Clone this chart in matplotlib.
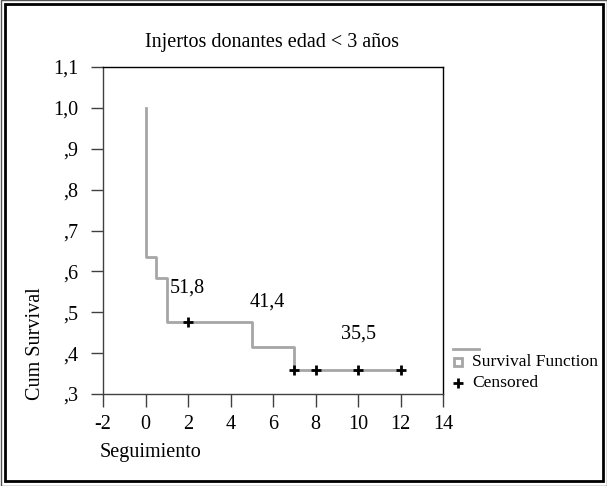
import matplotlib
matplotlib.use("Agg")
import matplotlib.pyplot as plt
from matplotlib.patches import Rectangle
from matplotlib.lines import Line2D

plt.rcParams['font.family'] = ['Liberation Serif', 'DejaVu Serif']

# Data
step_time = [0, 0, 0.5, 1, 5, 7, 12]
step_surv = [1.0, 0.636, 0.583, 0.477, 0.415, 0.358, 0.358]
cens_time = [2, 7, 8, 10, 12]
cens_surv = [0.477, 0.358, 0.358, 0.358, 0.358]
ann_text = ["51,8", "41,4", "35,5"]
ann_x = [1.97, 5.75, 10.0]
ann_y = [0.559, 0.526, 0.446]
xticks = [-2, 0, 2, 4, 6, 8, 10, 12, 14]
yticks = [0.3, 0.4, 0.5, 0.6, 0.7, 0.8, 0.9, 1.0, 1.1]
ytick_labels = [",3", ",4", ",5", ",6", ",7", ",8", ",9", "1,0", "1,1"]

W, H = 607, 486
fig = plt.figure(figsize=(W / 100, H / 100), dpi=100)
ax = fig.add_axes([103 / W, 1 - 394 / H, (443 - 103) / W, (394 - 67) / H])

gray = '#a6a6a6'
ax.plot(step_time, step_surv, drawstyle='steps-post', color=gray, lw=2.0, zorder=2)
ax.plot(cens_time, cens_surv, linestyle='none', marker='+', color='black',
        markersize=7, markeredgewidth=2.0, zorder=3)
for t, x, y in zip(ann_text, ann_x, ann_y):
    ax.text(x, y, t, ha='center', va='center', fontsize=14.5)

ax.set_xlim(-2, 14)
ax.set_ylim(0.3, 1.1)
ax.set_xticks(xticks)
ax.set_xticklabels([str(v) for v in xticks])
ax.set_yticks(yticks)
ax.set_yticklabels(ytick_labels)
ax.tick_params(axis='both', direction='out', length=9, width=1.0, color='#404040',
               labelsize=14.5)
ax.tick_params(axis='x', pad=6)
ax.tick_params(axis='y', pad=9)
for side in ['left', 'bottom']:
    ax.spines[side].set_color('#404040')
    ax.spines[side].set_linewidth(1.0)
for side in ['top', 'right']:
    ax.spines[side].set_color('black')
    ax.spines[side].set_linewidth(1.0)

fig.text(272 / W, 1 - 43 / H, "Injertos donantes edad < 3 años", ha='center', va='center', fontsize=14.5)
fig.text(35 / W, 1 - 344 / H, "Cum Survival", rotation=90, ha='center', va='center', fontsize=14.5)
fig.text(100 / W, 1 - 452 / H, "Seguimiento", ha='left', va='center', fontsize=14.5)

# Legend (drawn manually)
fig.add_artist(Line2D([453 / W, 479 / W], [1 - 349 / H, 1 - 349 / H], color=gray, lw=2.0,
                      transform=fig.transFigure))
fig.add_artist(Line2D([457.5 / W], [1 - 362 / H], marker='s', markersize=6, markerfacecolor='white',
                      markeredgecolor=gray, markeredgewidth=2.0, linestyle='none',
                      transform=fig.transFigure))
fig.add_artist(Line2D([457.5 / W], [1 - 383 / H], marker='+', markersize=7, color='black',
                      markeredgewidth=2.0, linestyle='none', transform=fig.transFigure))
fig.text(472 / W, 1 - 362 / H, "Survival Function", ha='left', va='center', fontsize=12.6)
fig.text(472 / W, 1 - 383 / H, "Censored", ha='left', va='center', fontsize=12.6)

# Double border
fig.add_artist(Rectangle((0.5 / W, 0.5 / H), (W - 1) / W, (H - 1) / H, fill=False,
                         edgecolor='#555555', lw=1.0, transform=fig.transFigure))
fig.add_artist(Rectangle((4.5 / W, 5 / H), (W - 9) / W, (H - 9.5) / H, fill=False,
                         edgecolor='black', lw=2.0, transform=fig.transFigure))

fig.savefig("out.png", dpi=100)
